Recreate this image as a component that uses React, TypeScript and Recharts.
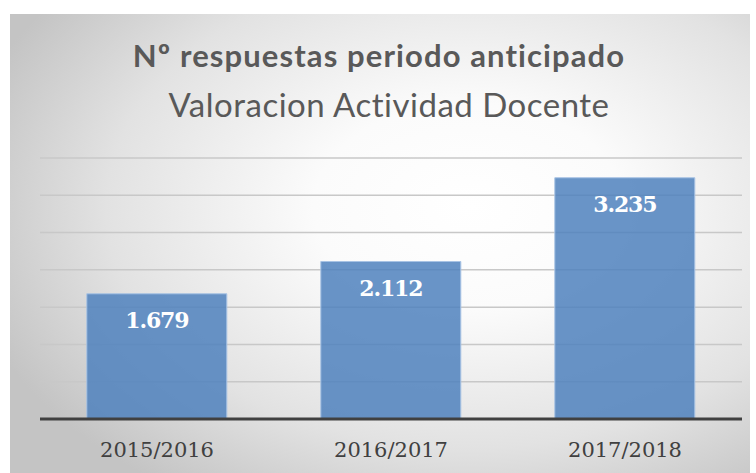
import React from "react";
import { BarChart, Bar, XAxis, YAxis, CartesianGrid, LabelList } from "recharts";

const categories = ["2015/2016", "2016/2017", "2017/2018"];
const responses = [1679, 2112, 3235];
const valueLabels = ["1.679", "2.112", "3.235"];
const yTicks = [0, 500, 1000, 1500, 2000, 2500, 3000, 3500];

const data = categories.map((c, i) => ({ name: c, value: responses[i], label: valueLabels[i] }));

export default function App() {
  return (
    <div style={{ position: "absolute", left: 0, top: 0, width: 756, height: 473, background: "#ffffff", overflow: "hidden" }}>
      <div
        style={{
          position: "absolute",
          left: 10,
          top: 14,
          width: 740,
          height: 459,
          background: "radial-gradient(ellipse 70% 75% at 62% 42%, #ffffff 0%, #fbfbfb 30%, #e2e2e2 70%, #c4c4c4 100%)",
        }}
      />
      <div
        style={{
          position: "absolute",
          left: 1,
          top: 36,
          width: 756,
          textAlign: "center",
          fontFamily: "Lato, 'Open Sans', sans-serif",
          color: "#595959",
          fontWeight: 700,
          fontSize: 31,
          letterSpacing: 1.1,
          lineHeight: "38px",
          whiteSpace: "nowrap",
        }}
      >
        Nº respuestas periodo anticipado
      </div>
      <div
        style={{
          position: "absolute",
          left: 11,
          top: 84,
          width: 756,
          textAlign: "center",
          fontFamily: "Lato, 'Open Sans', sans-serif",
          color: "#595959",
          fontWeight: 400,
          fontSize: 33,
          letterSpacing: 0.5,
          lineHeight: "40px",
          whiteSpace: "nowrap",
        }}
      >
        Valoracion Actividad Docente
      </div>
      <div style={{ position: "absolute", left: 0, top: 0 }}>
        <BarChart
          width={756}
          height={473}
          data={data}
          margin={{ top: 158, right: 14, bottom: 14, left: 40 }}
          barCategoryGap="20%"
        >
          <CartesianGrid vertical={false} stroke="#c8c8c8" strokeWidth={1.5} />
          <YAxis hide domain={[0, 3500]} ticks={yTicks} />
          <XAxis
            dataKey="name"
            height={40}
            tickLine={false}
            axisLine={{ stroke: "#404040", strokeWidth: 3 }}
            tick={{ fill: "#404040", fontSize: 21, fontFamily: "'DejaVu Serif', serif" }}
            tickMargin={17}
          />
          <Bar dataKey="value" fill="#4f81bd" fillOpacity={0.85} stroke="#a8c3e4" strokeWidth={1} isAnimationActive={false}>
            <LabelList
              dataKey="label"
              position="insideTop"
              offset={19}
              fill="#ffffff"
              style={{ fontSize: 22, fontWeight: 700, fontFamily: "'DejaVu Serif', serif", letterSpacing: -1.2 }}
            />
          </Bar>
        </BarChart>
      </div>
    </div>
  );
}
